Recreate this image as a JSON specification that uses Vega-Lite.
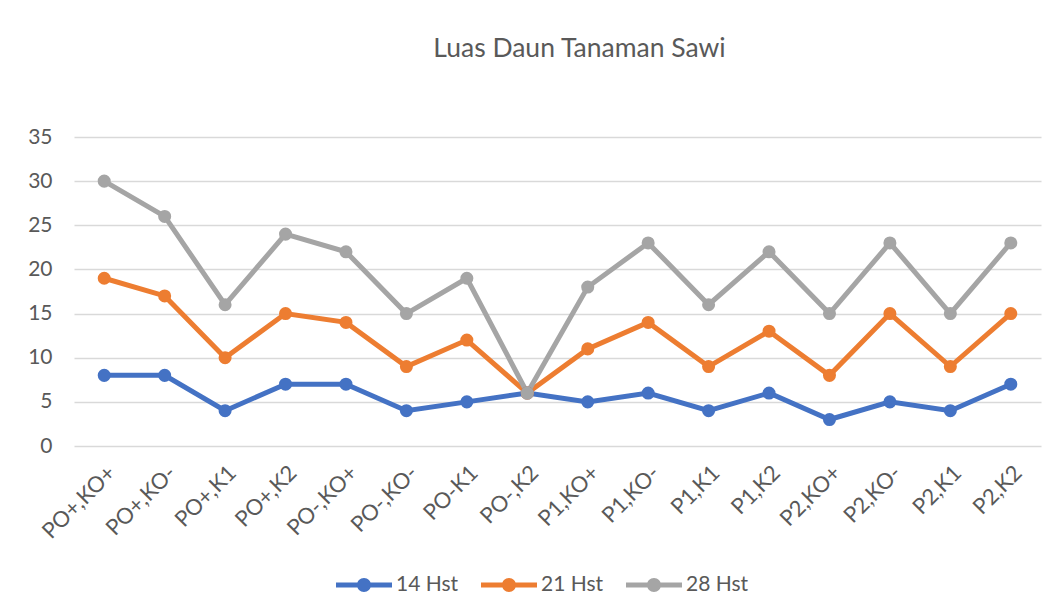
{
  "$schema": "https://vega.github.io/schema/vega-lite/v6.json",
  "width": 967,
  "height": 309,
  "autosize": {"type": "none"},
  "padding": {"left": 74, "top": 137, "right": 20, "bottom": 169},
  "background": "white",
  "config": {
    "font": "Lato",
    "view": {"stroke": null}
  },
  "title": {
    "text": "Luas Daun Tanaman Sawi",
    "font": "Lato",
    "fontSize": 26.5,
    "fontWeight": "normal",
    "color": "#595959",
    "anchor": "middle",
    "frame": "group",
    "dx": 22,
    "offset": 64
  },
  "data": {
    "values": [
      {"k": "PO+,KO+", "s": "14 Hst", "v": 8}, {"k": "PO+,KO-", "s": "14 Hst", "v": 8}, {"k": "PO+,K1", "s": "14 Hst", "v": 4}, {"k": "PO+,K2", "s": "14 Hst", "v": 7},
      {"k": "PO-,KO+", "s": "14 Hst", "v": 7}, {"k": "PO-,KO-", "s": "14 Hst", "v": 4}, {"k": "PO-K1", "s": "14 Hst", "v": 5}, {"k": "PO-,K2", "s": "14 Hst", "v": 6},
      {"k": "P1,KO+", "s": "14 Hst", "v": 5}, {"k": "P1,KO-", "s": "14 Hst", "v": 6}, {"k": "P1,K1", "s": "14 Hst", "v": 4}, {"k": "P1,K2", "s": "14 Hst", "v": 6},
      {"k": "P2,KO+", "s": "14 Hst", "v": 3}, {"k": "P2,KO-", "s": "14 Hst", "v": 5}, {"k": "P2,K1", "s": "14 Hst", "v": 4}, {"k": "P2,K2", "s": "14 Hst", "v": 7},
      {"k": "PO+,KO+", "s": "21 Hst", "v": 19}, {"k": "PO+,KO-", "s": "21 Hst", "v": 17}, {"k": "PO+,K1", "s": "21 Hst", "v": 10}, {"k": "PO+,K2", "s": "21 Hst", "v": 15},
      {"k": "PO-,KO+", "s": "21 Hst", "v": 14}, {"k": "PO-,KO-", "s": "21 Hst", "v": 9}, {"k": "PO-K1", "s": "21 Hst", "v": 12}, {"k": "PO-,K2", "s": "21 Hst", "v": 6},
      {"k": "P1,KO+", "s": "21 Hst", "v": 11}, {"k": "P1,KO-", "s": "21 Hst", "v": 14}, {"k": "P1,K1", "s": "21 Hst", "v": 9}, {"k": "P1,K2", "s": "21 Hst", "v": 13},
      {"k": "P2,KO+", "s": "21 Hst", "v": 8}, {"k": "P2,KO-", "s": "21 Hst", "v": 15}, {"k": "P2,K1", "s": "21 Hst", "v": 9}, {"k": "P2,K2", "s": "21 Hst", "v": 15},
      {"k": "PO+,KO+", "s": "28 Hst", "v": 30}, {"k": "PO+,KO-", "s": "28 Hst", "v": 26}, {"k": "PO+,K1", "s": "28 Hst", "v": 16}, {"k": "PO+,K2", "s": "28 Hst", "v": 24},
      {"k": "PO-,KO+", "s": "28 Hst", "v": 22}, {"k": "PO-,KO-", "s": "28 Hst", "v": 15}, {"k": "PO-K1", "s": "28 Hst", "v": 19}, {"k": "PO-,K2", "s": "28 Hst", "v": 6},
      {"k": "P1,KO+", "s": "28 Hst", "v": 18}, {"k": "P1,KO-", "s": "28 Hst", "v": 23}, {"k": "P1,K1", "s": "28 Hst", "v": 16}, {"k": "P1,K2", "s": "28 Hst", "v": 22},
      {"k": "P2,KO+", "s": "28 Hst", "v": 15}, {"k": "P2,KO-", "s": "28 Hst", "v": 23}, {"k": "P2,K1", "s": "28 Hst", "v": 15}, {"k": "P2,K2", "s": "28 Hst", "v": 23}
    ]
  },
  "encoding": {
    "x": {
      "field": "k",
      "type": "nominal",
      "sort": null,
      "scale": {"type": "point", "padding": 0.5},
      "axis": {
        "title": null,
        "labelAngle": -45,
        "labelFontSize": 22,
        "labelColor": "#595959",
        "labelPadding": 16,
        "ticks": false,
        "domain": false,
        "grid": false
      }
    },
    "y": {
      "field": "v",
      "type": "quantitative",
      "scale": {"domain": [0, 35], "nice": false},
      "axis": {
        "title": null,
        "values": [0, 5, 10, 15, 20, 25, 30, 35],
        "labelFontSize": 21,
        "labelColor": "#595959",
        "labelPadding": 22,
        "ticks": false,
        "domain": false,
        "gridColor": "#D9D9D9",
        "gridWidth": 1.5
      }
    },
    "color": {
      "field": "s",
      "type": "nominal",
      "scale": {"domain": ["14 Hst", "21 Hst", "28 Hst"], "range": ["#4472C4", "#ED7D31", "#A5A5A5"]},
      "legend": {
        "title": null,
        "orient": "none",
        "direction": "horizontal",
        "legendX": 262,
        "legendY": 420,
        "symbolType": "M-1,-0.09H1V0.09H-1Z M0.25,0 A0.25,0.25 0 1,1 -0.25,0 A0.25,0.25 0 1,1 0.25,0Z",
        "symbolSize": 3136,
        "symbolStrokeWidth": 0,
        "symbolOpacity": 1,
        "labelFontSize": 21,
        "labelColor": "#595959",
        "labelOffset": 4,
        "columnPadding": 22,
        "encode": {
          "symbols": {
            "update": {
              "fill": {"scale": "color", "field": "value"},
              "stroke": {"value": "transparent"},
              "strokeWidth": {"value": 0}
            }
          }
        }
      }
    }
  },
  "layer": [
    {
      "mark": {"type": "line", "strokeWidth": 5}
    },
    {
      "mark": {"type": "point", "filled": true, "opacity": 1, "size": 170}
    }
  ]
}
